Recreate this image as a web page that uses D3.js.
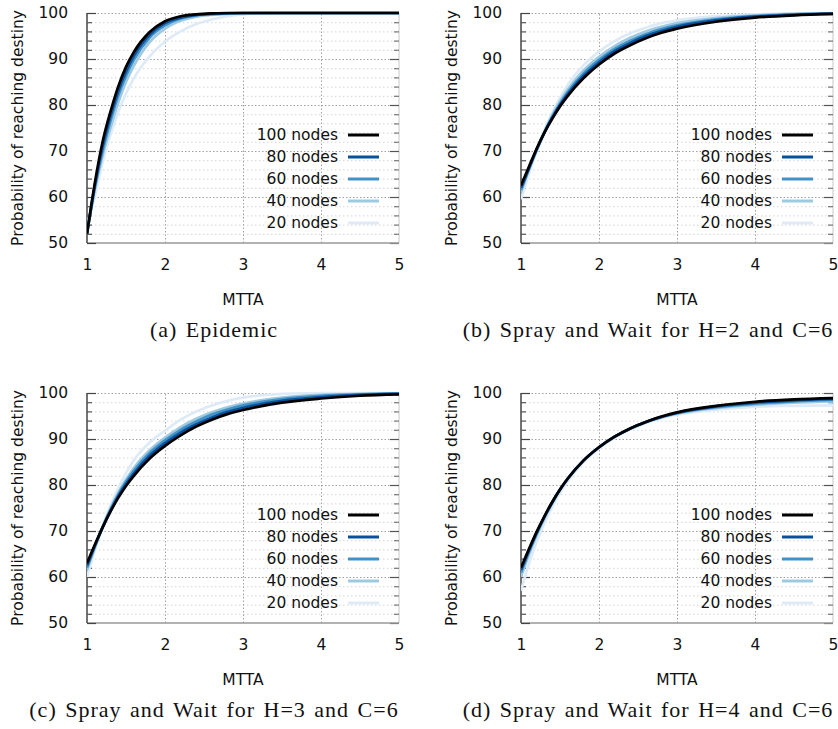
<!DOCTYPE html>
<html><head><meta charset="utf-8">
<script src="https://cdn.jsdelivr.net/npm/d3@7"></script>
<style>
html,body{margin:0;padding:0;background:#fff;}
svg{display:block;}
</style></head>
<body>
<svg id="chart" width="838" height="729"></svg>
<script>
// ---- data ----
const mtta = [1,1.1,1.2,1.3,1.4,1.5,1.6,1.8,2.0,2.2,2.4,2.6,2.8,3.0,3.5,4.0,4.5,5.0];
const seriesNames = ["100 nodes","80 nodes","60 nodes","40 nodes","20 nodes"];
const seriesColors = ["#000000","#08519c","#4292c6","#9ecae1","#deebf7"];
const xTicks = [1,2,3,4,5];
const yTicks = [50,60,70,80,90,100];
const captions = ["(a) Epidemic","(b) Spray and Wait for H=2 and C=6","(c) Spray and Wait for H=3 and C=6","(d) Spray and Wait for H=4 and C=6"];

const epidemic100 = [52,63,72,78.5,84,88.3,91.5,95.8,98.2,99.3,99.7,99.9,100,100,100,100,100,100];
const epidemic80  = [52,62.5,71,77.5,83,87.3,90.7,95.2,97.8,99,99.6,99.8,99.95,100,100,100,100,100];
const epidemic60  = [52,62,70,76.5,82,86.3,89.8,94.6,97.3,98.8,99.5,99.8,99.9,100,100,100,100,100];
const epidemic40  = [52.5,61.5,69,75,80.5,85,88.5,93.6,96.6,98.3,99.2,99.6,99.8,99.95,100,100,100,100];
const epidemic20  = [54,60,67.5,73.5,78.5,82.5,85.8,90.5,93.8,96,97.6,98.6,99.3,99.7,100,100,100,100];

const sw2_100 = [62.5,66.5,70.5,74,77,79.7,82,85.8,88.8,91.2,93,94.5,95.7,96.6,98.1,99,99.5,99.8];
const sw2_80  = [62,66.2,70.3,74,77.2,80,82.4,86.3,89.3,91.7,93.5,95,96.1,97,98.4,99.2,99.6,99.8];
const sw2_60  = [61.5,66,70.2,74,77.4,80.3,82.8,86.8,89.8,92.2,94,95.4,96.5,97.3,98.6,99.3,99.7,99.9];
const sw2_40  = [61,65.8,70.2,74.2,77.8,80.8,83.4,87.5,90.5,92.8,94.6,96,97,97.8,98.9,99.5,99.8,99.9];
const sw2_20  = [59.5,65,70,74.5,78.3,81.6,84.4,88.6,91.6,93.9,95.6,96.8,97.8,98.4,99.3,99.7,99.9,100];

const sw3_100 = [63,67,70.8,74.2,77.2,79.8,82,85.7,88.5,90.8,92.7,94.2,95.4,96.3,97.9,98.8,99.4,99.7];
const sw3_80  = [62.5,66.8,70.7,74.3,77.5,80.2,82.5,86.3,89.1,91.4,93.2,94.7,95.9,96.8,98.3,99.1,99.6,99.8];
const sw3_60  = [62,66.6,70.8,74.6,77.9,80.7,83.1,86.9,89.7,92,93.8,95.3,96.4,97.3,98.7,99.4,99.7,99.9];
const sw3_40  = [61.5,66.4,70.9,74.9,78.3,81.2,83.7,87.5,90.3,92.6,94.4,95.8,96.9,97.7,99,99.6,99.8,99.9];
const sw3_20  = [60,65.8,71,75.5,79.3,82.6,85.4,89.2,91.8,94.2,96,97.3,98.3,99,99.8,100,100,100];

const sw4_100 = [62,66,69.8,73.2,76.3,79,81.4,85.3,88.2,90.5,92.3,93.7,94.9,95.8,97.2,98.1,98.6,98.9];
const sw4_80  = [61.5,65.7,69.6,73.1,76.2,79,81.4,85.3,88.2,90.5,92.3,93.7,94.8,95.7,97.1,97.9,98.4,98.7];
const sw4_60  = [61,65.4,69.4,73,76.2,79,81.4,85.3,88.2,90.5,92.3,93.7,94.8,95.6,96.9,97.7,98.2,98.5];
const sw4_40  = [60,64.8,69,72.7,76,78.9,81.3,85.2,88.1,90.4,92.2,93.6,94.7,95.5,96.7,97.4,97.9,98.2];
const sw4_20  = [57,62.8,67.6,71.7,75.2,78.3,80.9,85,88,90.3,92.1,93.5,94.6,95.3,96.4,97,97.2,97.3];

const panelsData = [
  [epidemic100,epidemic80,epidemic60,epidemic40,epidemic20],
  [sw2_100,sw2_80,sw2_60,sw2_40,sw2_20],
  [sw3_100,sw3_80,sw3_60,sw3_40,sw3_20],
  [sw4_100,sw4_80,sw4_60,sw4_40,sw4_20]
];

// ---- layout ----
const svg = d3.select("#chart");
const W = 312, H = 230;
const panelOrigins = [[87,13],[521,13],[87,393],[521,393]];
const FONT = "'DejaVu Sans', Verdana, sans-serif";

const x = d3.scaleLinear().domain([1,5]).range([0,W]);
const y = d3.scaleLinear().domain([50,100]).range([H,0]);
const minorY = d3.range(52,100,2).filter(v => v%10!==0);

panelsData.forEach((series, pi) => {
  const [ox, oy] = panelOrigins[pi];
  const g = svg.append("g").attr("transform", `translate(${ox},${oy})`);

  // minor horizontal grid
  g.append("g").attr("class","minorgrid")
    .call(d3.axisLeft(y).tickValues(minorY).tickSize(-W).tickFormat(""))
    .call(s => s.select(".domain").remove())
    .selectAll("line").attr("stroke","#d4d4d4").attr("stroke-width",1).attr("stroke-dasharray","1.5,2.5");

  // major horizontal grid
  g.append("g")
    .call(d3.axisLeft(y).tickValues(yTicks.filter(v=>v>50)).tickSize(-W).tickFormat(""))
    .call(s => s.select(".domain").remove())
    .selectAll("line").attr("stroke","#a0a0a0").attr("stroke-width",1).attr("stroke-dasharray","1.5,2");

  // vertical grid
  g.append("g").attr("transform",`translate(0,${H})`)
    .call(d3.axisBottom(x).tickValues([2,3,4]).tickSize(-H).tickFormat(""))
    .call(s => s.select(".domain").remove())
    .selectAll("line").attr("stroke","#a0a0a0").attr("stroke-width",1).attr("stroke-dasharray","1.5,2");

  // right border with inward ticks
  g.append("line").attr("x1",W).attr("x2",W).attr("y1",0).attr("y2",H)
    .attr("stroke","#c8c8c8").attr("stroke-width",1);
  g.append("g").attr("transform",`translate(${W},0)`)
    .call(d3.axisRight(y).tickValues(yTicks).tickSize(-9).tickFormat(""))
    .call(s => s.select(".domain").remove())
    .selectAll("line").attr("stroke","#555").attr("stroke-width",1.2);
  g.append("g").attr("transform",`translate(${W},0)`)
    .call(d3.axisRight(y).tickValues(minorY).tickSize(-5).tickFormat(""))
    .call(s => s.select(".domain").remove())
    .selectAll("line").attr("stroke","#777").attr("stroke-width",1.2);

  // bottom axis line
  g.append("line").attr("x1",0).attr("x2",W).attr("y1",H).attr("y2",H)
    .attr("stroke","#999").attr("stroke-width",1.5);

  // left axis
  const ya = g.append("g")
    .call(d3.axisLeft(y).tickValues(yTicks).tickSize(-9).tickPadding(19).tickFormat(d3.format("d")));
  ya.select(".domain").attr("stroke","#444").attr("stroke-width",1.5).attr("d",`M0,0V${H}`);
  ya.selectAll("line").attr("stroke","#444").attr("stroke-width",1.2);
  ya.selectAll("text").attr("font-family",FONT).attr("font-size",15.5).attr("fill","#111");
  g.append("g")
    .call(d3.axisLeft(y).tickValues(minorY).tickSize(-5).tickFormat(""))
    .call(s => s.select(".domain").remove())
    .selectAll("line").attr("stroke","#555").attr("stroke-width",1.2);

  // x tick labels
  const xa = g.append("g").attr("transform",`translate(0,${H})`)
    .call(d3.axisBottom(x).tickValues(xTicks).tickSize(0).tickPadding(16).tickFormat(d3.format("d")));
  xa.select(".domain").remove();
  xa.selectAll("text").attr("font-family",FONT).attr("font-size",15.5).attr("fill","#111");

  // axis titles
  g.append("text").attr("x",W/2).attr("y",H+62).attr("text-anchor","middle")
    .attr("font-family",FONT).attr("font-size",15.5).attr("fill","#111").text("MTTA");
  g.append("text").attr("transform",`translate(-64,${H/2}) rotate(-90)`)
    .attr("text-anchor","middle").attr("font-family",FONT).attr("font-size",15.5).attr("fill","#111")
    .text("Probability of reaching destiny");

  // curves (light first, black last)
  const line = d3.line().x((d,i)=>x(mtta[i])).y(d=>y(d)).curve(d3.curveMonotoneX);
  const clip = `clip${pi}`;
  g.append("clipPath").attr("id",clip).append("rect").attr("x",0).attr("y",-3).attr("width",W).attr("height",H+3);
  for (let si = series.length-1; si >= 0; si--) {
    g.append("path").datum(series[si]).attr("d",line)
      .attr("fill","none").attr("stroke",seriesColors[si]).attr("stroke-width",2.7)
      .attr("stroke-linejoin","round").attr("clip-path",`url(#${clip})`);
  }

  // legend
  const lg = g.append("g");
  seriesNames.forEach((name, si) => {
    const ly = 122 + si*22;
    lg.append("text").attr("x",251).attr("y",ly).attr("dy","0.35em").attr("text-anchor","end")
      .attr("font-family",FONT).attr("font-size",15.5).attr("fill","#111").text(name);
    lg.append("line").attr("x1",261).attr("x2",292).attr("y1",ly).attr("y2",ly)
      .attr("stroke",seriesColors[si]).attr("stroke-width",3);
  });

  // caption
  svg.append("text").attr("x", (pi%2===0?214:648)).attr("y", (pi<2?337:717))
    .attr("text-anchor","middle").attr("font-family","'Liberation Serif', 'Times New Roman', serif")
    .attr("font-size",22).attr("letter-spacing",1.0).attr("word-spacing",2).attr("fill","#111").text(captions[pi]);
});
</script>
</body></html>
